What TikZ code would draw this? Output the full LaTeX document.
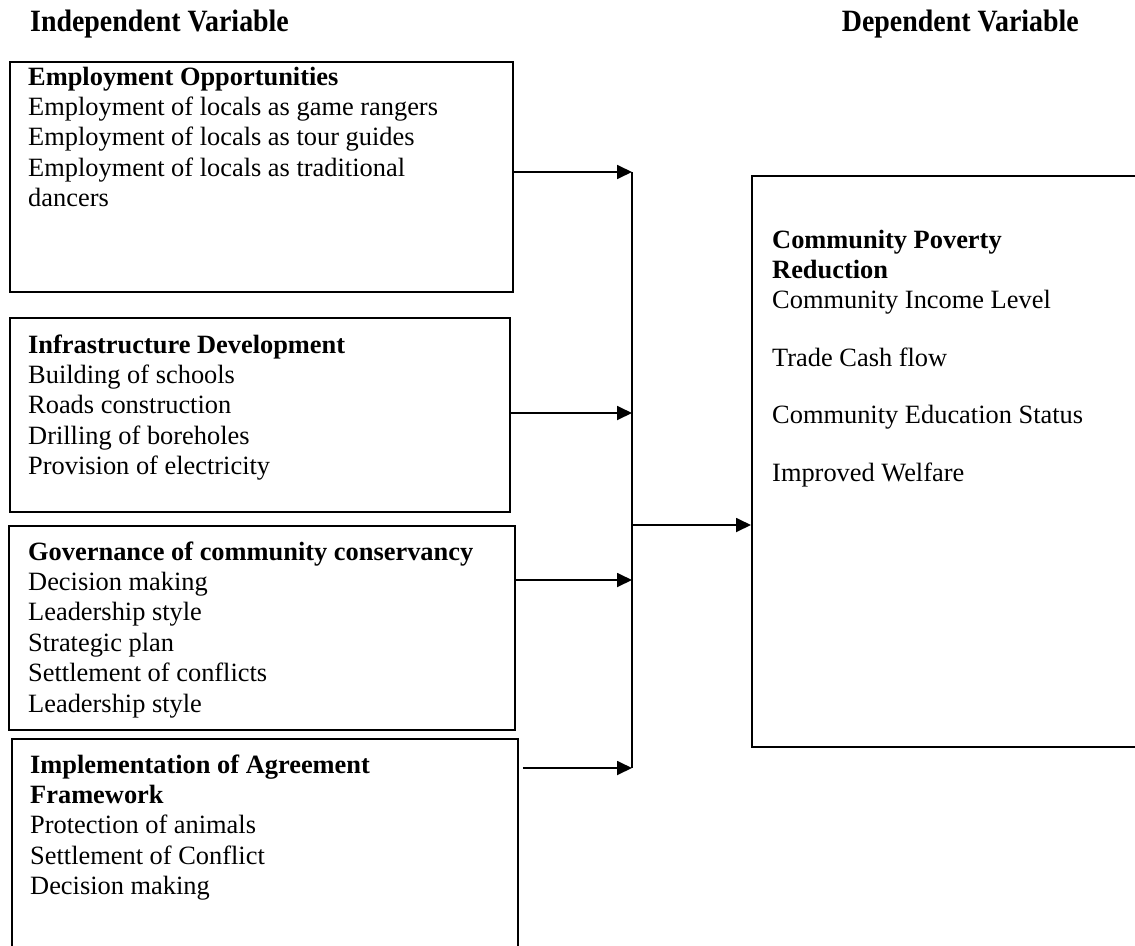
\documentclass[tikz,border=0pt]{standalone}
\usepackage{fontspec}
\usepackage{graphicx}
\setmainfont{Liberation Serif}
\usetikzlibrary{arrows.meta}
\begin{document}
\begin{tikzpicture}[x=1pt,y=-1pt,
  box/.style={draw, line width=1.8pt, rectangle, inner sep=0pt, anchor=north west},
  txt/.style={anchor=base west, inner sep=0pt, font=\fontsize{26.4}{30.4}\selectfont},
  ln/.style={line width=1.8pt},
  arr/.style={line width=1.8pt, -{Triangle[length=15pt,width=14pt]}},
  ttl/.style={anchor=base west, inner sep=0pt, font=\fontsize{31}{34}\selectfont\bfseries}
]
\useasboundingbox (0,0) rectangle (1135,945);

% titles
\node[ttl] (ti) at (30,31) {\scalebox{0.9}[1]{Independent Variable}};
\node[ttl, anchor=base east] (td) at (1079,31) {\scalebox{0.9}[1]{Dependent Variable}};

% boxes
\node[box, minimum width=503pt, minimum height=230pt] (b1) at (9,61) {};
\node[box, minimum width=500pt, minimum height=194pt] (b2) at (9,317) {};
\node[box, minimum width=506pt, minimum height=204pt] (b3) at (8,525) {};
\node[box, minimum width=506pt, minimum height=240pt] (b4) at (11,738) {};
\node[box, minimum width=400pt, minimum height=571pt] (rb) at (751,175) {};

% texts
\node[txt] (t1) at (28,85) {\parbox[t]{480pt}{\raggedright\textbf{Employment Opportunities}\\
Employment of locals as game rangers\\
Employment of locals as tour guides\\
Employment of locals as traditional\\
dancers}};
\node[txt] (t2) at (28,353) {\parbox[t]{480pt}{\raggedright\textbf{Infrastructure Development}\\
Building of schools\\
Roads construction\\
Drilling of boreholes\\
Provision of electricity}};
\node[txt] (t3) at (28,560) {\parbox[t]{486pt}{\raggedright\textbf{Governance of community conservancy}\\
Decision making\\
Leadership style\\
Strategic plan\\
Settlement of conflicts\\
Leadership style}};
\node[txt] (t4) at (30,773) {\parbox[t]{480pt}{\raggedright\textbf{Implementation of Agreement}\\
\textbf{Framework}\\
Protection of animals\\
Settlement of Conflict\\
Decision making}};
\node[txt] (t5) at (772,248) {\parbox[t]{360pt}{\raggedright\textbf{Community Poverty}\\
\textbf{Reduction}\\
Community Income Level\\[27pt]
Trade Cash flow\\[27pt]
Community Education Status\\[27pt]
Improved Welfare}};

% bus and connectors
\coordinate (j1) at (632,172);
\coordinate (j2) at (632,413);
\coordinate (j3) at (632,580);
\coordinate (j4) at (632,768);
\coordinate (jm) at (632,525);
\draw[ln] (j1) -- (j4);
\draw[arr] (b1.east |- j1) -- (j1);
\draw[arr] (b2.east |- j2) -- (j2);
\draw[arr] (b3.east |- j3) -- (j3);
\draw[arr] ([xshift=4pt]b4.east |- j4) -- (j4);
\draw[arr] (jm) -- (rb.west |- jm);
\end{tikzpicture}
\end{document}
